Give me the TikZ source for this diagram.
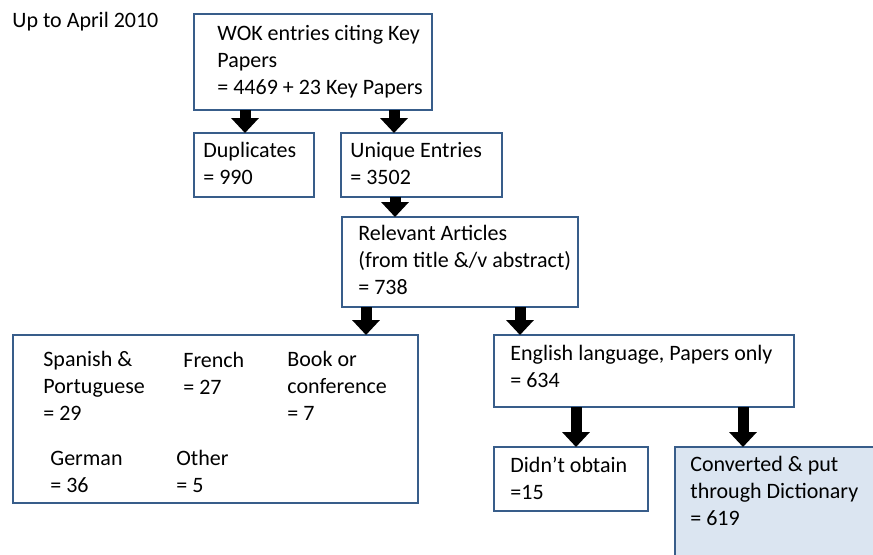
\documentclass[tikz,border=0pt]{standalone}
\usepackage{fontspec}
\setmainfont{Carlito}
\usetikzlibrary{arrows.meta}
\definecolor{boxline}{RGB}{56,93,138}
\definecolor{boxfill}{RGB}{219,229,241}
\tikzset{
  box/.style={draw=boxline, line width=1pt, inner sep=0pt, outer sep=0pt, anchor=north west},
  txt/.style={inner sep=0pt, anchor=base west, align=left, font=\fontsize{11pt}{13.5pt}\selectfont},
  blockarrow/.style={line width=5.5pt, -{Triangle[width=13.5pt,length=7.5pt]}}
}
\begin{document}
\begin{tikzpicture}[x=0.5pt,y=-0.5pt]
                \useasboundingbox (0,0) rectangle (873,554);
                \clip (0,0) rectangle (873,554);
                
                % Drawing the boxes
                \node [box, minimum width=119pt, minimum height=48pt] (wok) at (194,14) {};%
                \node [box, minimum width=60pt, minimum height=32pt] (dup) at (194,133) {};%
                \node [box, minimum width=80.5pt, minimum height=32pt] (uniq) at (341,133) {};%
                \node [box, minimum width=118pt, minimum height=45pt] (rel) at (342,217) {};%
                \node [box, minimum width=202.5pt, minimum height=84pt] (lang) at (13,335) {};%
                \node [box, minimum width=150pt, minimum height=36pt] (eng) at (494,335) {};%
                \node [box, minimum width=77pt, minimum height=32pt] (didnt) at (494,447) {};%
                \node [box, fill=boxfill, minimum width=107.5pt, minimum height=65pt] (conv) at (675,447) {};%
                
                % Writing the texts (placed at the baseline of their last line)
                \node [txt] (upto) at (12,27) {Up to April 2010};%
                \node [txt] (wokt) at (217,94) {WOK entries citing Key\\Papers\\= 4469 + 23 Key Papers};%
                \node [txt] (dupt) at (203,184) {Duplicates\\= 990};%
                \node [txt] (uniqt) at (350,184) {Unique Entries\\= 3502};%
                \node [txt] (relt) at (358,294) {Relevant Articles\\(from title \&/v abstract)\\= 738};%
                \node [txt] (spant) at (43,420) {Spanish \&\\Portuguese\\= 29};%
                \node [txt] (frent) at (183,394) {French\\= 27};%
                \node [txt] (bookt) at (287,420) {Book or\\conference\\= 7};%
                \node [txt] (germt) at (50,492) {German\\= 36};%
                \node [txt] (othert) at (176,492) {Other\\= 5};%
                \node [txt] (engt) at (510,387) {English language, Papers only\\= 634};%
                \node [txt] (didntt) at (510,499) {Didn’t obtain\\=15};%
                \node [txt] (convt) at (690,525) {Converted \& put\\through Dictionary\\= 619};%
                
                % Drawing the arrows
                \coordinate (c1) at (245,0);%
                \coordinate (c2) at (394,0);%
                \coordinate (c3) at (395,0);%
                \coordinate (c4) at (366,0);%
                \coordinate (c5) at (520,0);%
                \coordinate (c6) at (576,0);%
                \coordinate (c7) at (743,0);%
                \draw [blockarrow] (wok.south -| c1) -- (dup.north -| c1);%
                \draw [blockarrow] (wok.south -| c2) -- (uniq.north -| c2);%
                \draw [blockarrow] (uniq.south -| c3) -- (rel.north -| c3);%
                \draw [blockarrow] (rel.south -| c4) -- (lang.north -| c4);%
                \draw [blockarrow] (rel.south -| c5) -- (eng.north -| c5);%
                \draw [blockarrow] (eng.south -| c6) -- (didnt.north -| c6);%
                \draw [blockarrow] (eng.south -| c7) -- (conv.north -| c7);%
\end{tikzpicture}
\end{document}
